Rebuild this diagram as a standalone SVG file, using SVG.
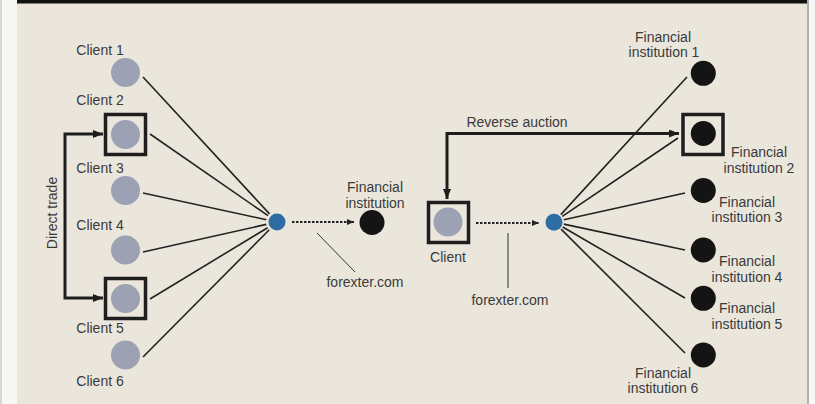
<svg xmlns="http://www.w3.org/2000/svg" width="815" height="404" viewBox="0 0 815 404">
<defs>
<style>
text{font-family:"Liberation Sans",Arial,sans-serif;font-size:14px;fill:#3a3a3a;text-anchor:middle}
.client{fill:#9ca1b3}
.fi{fill:#141414}
.hub{fill:#2e6da3}
.box{fill:none;stroke:#1e1e1e;stroke-width:3.5}
.link{stroke:#222;stroke-width:1.6;fill:none}
.thick{stroke:#1e1e1e;stroke-width:3;fill:none}
.dash{stroke:#222;stroke-width:2;stroke-dasharray:2.5 1.5;fill:none}
.leader{stroke:#333;stroke-width:1;fill:none}
</style>
<marker id="ah" markerUnits="userSpaceOnUse" markerWidth="10" markerHeight="8" refX="10" refY="4" orient="auto-start-reverse">
<path d="M0,0 L10,4 L0,8 z" fill="#1e1e1e"/>
</marker>
<marker id="ahs" markerUnits="userSpaceOnUse" markerWidth="7" markerHeight="6" refX="7" refY="3" orient="auto">
<path d="M0,0 L7,3 L0,6 z" fill="#222"/>
</marker>
</defs>
<rect x="0" y="0" width="815" height="404" fill="#f7f7f5"/>
<line x1="1" y1="0" x2="1" y2="404" stroke="#b8b8b8" stroke-width="1"/>
<rect x="17" y="0" width="790" height="404" fill="#ebe6dc"/>
<rect x="17" y="0" width="790" height="3.5" fill="#111"/>
<line x1="808" y1="0" x2="808" y2="404" stroke="#9a9a9a" stroke-width="1.5"/>

<g id="connectors">
<path class="link" d="M143,77 L269.5,213.9"/>
<path class="link" d="M150,134 L268,215.7"/>
<path class="link" d="M143,193 L266.3,219.7"/>
<path class="link" d="M143,252 L266.3,224.4"/>
<path class="link" d="M150,299 L267.6,227.7"/>
<path class="link" d="M143,357 L269.3,229.8"/>
<path class="link" d="M560.8,214.6 L687,77"/>
<path class="link" d="M562.3,216.4 L678,138"/>
<path class="link" d="M563.8,219.8 L685,193"/>
<path class="link" d="M563.8,224.1 L685,250"/>
<path class="link" d="M562.7,227 L685,298"/>
<path class="link" d="M561.1,229.1 L685,353"/>
<path class="thick" d="M103,134 H65 V298 H103" marker-start="url(#ah)" marker-end="url(#ah)"/>
<path class="thick" d="M447,199 V133.5 H679" marker-start="url(#ah)" marker-end="url(#ah)"/>
<path class="dash" d="M292,222 H354" marker-end="url(#ahs)"/>
<path class="dash" d="M476,223 H539" marker-end="url(#ahs)"/>
<path class="leader" d="M317,233 L355,272"/>
<path class="leader" d="M508,233 V288"/>
</g>

<g id="direct-trade"><text transform="translate(57,213) rotate(-90)">Direct trade</text></g>
<g id="reverse-auction"><text x="517" y="127">Reverse auction</text></g>

<g id="client1"><circle class="client" cx="125.5" cy="72.5" r="14.5"/><text x="100" y="55">Client 1</text></g>
<g id="client2"><rect class="box" x="105.5" y="114.5" width="40" height="40"/><circle class="client" cx="125.5" cy="134.5" r="14.5"/><text x="100" y="105">Client 2</text></g>
<g id="client3"><circle class="client" cx="125.5" cy="190.5" r="14.5"/><text x="100" y="173">Client 3</text></g>
<g id="client4"><circle class="client" cx="125.5" cy="250" r="14.5"/><text x="100" y="230">Client 4</text></g>
<g id="client5"><rect class="box" x="105.5" y="278.5" width="40" height="40"/><circle class="client" cx="125.5" cy="298.5" r="14.5"/><text x="100" y="333">Client 5</text></g>
<g id="client6"><circle class="client" cx="125.5" cy="355" r="14.5"/><text x="100" y="386">Client 6</text></g>

<g id="hub-left"><circle class="hub" cx="277" cy="222" r="8.5"/></g>
<g id="fi-left"><circle class="fi" cx="372" cy="222.5" r="12.5"/><text x="375" y="192">Financial</text><text x="375" y="208">institution</text></g>
<g id="forexter-left"><text x="365" y="287">forexter.com</text></g>

<g id="client"><rect class="box" x="428.5" y="202.5" width="40" height="40"/><circle class="client" cx="448" cy="222" r="14.5"/><text x="448" y="262">Client</text></g>
<g id="hub-right"><circle class="hub" cx="554" cy="222.3" r="8.5"/></g>
<g id="forexter-right"><text x="510" y="305">forexter.com</text></g>

<g id="fi1"><circle class="fi" cx="703.3" cy="73.3" r="12.5"/><text x="663" y="42">Financial</text><text x="664" y="57">institution 1</text></g>
<g id="fi2"><rect class="box" x="683" y="114.5" width="40" height="40"/><circle class="fi" cx="703.3" cy="133.5" r="12.5"/><text x="759" y="157">Financial</text><text x="759" y="173">institution 2</text></g>
<g id="fi3"><circle class="fi" cx="703.3" cy="190.5" r="12.5"/><text x="747" y="206.5">Financial</text><text x="747" y="222">institution 3</text></g>
<g id="fi4"><circle class="fi" cx="703.3" cy="250" r="12.5"/><text x="747" y="266">Financial</text><text x="747" y="282">institution 4</text></g>
<g id="fi5"><circle class="fi" cx="703.3" cy="298.3" r="12.5"/><text x="747" y="312.5">Financial</text><text x="747" y="328.5">institution 5</text></g>
<g id="fi6"><circle class="fi" cx="703.3" cy="355" r="12.5"/><text x="663" y="377.5">Financial</text><text x="663" y="393">institution 6</text></g>
</svg>
